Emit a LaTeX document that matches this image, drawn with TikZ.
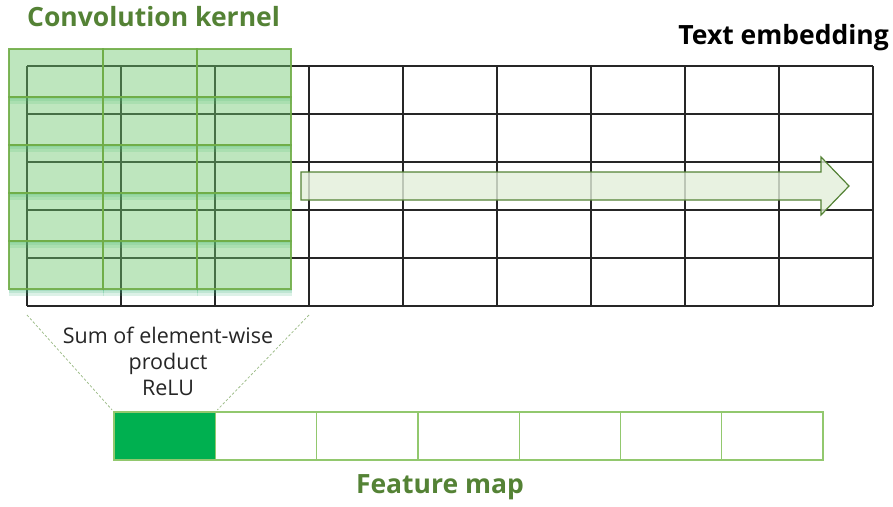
\documentclass[tikz,border=0pt]{standalone}
\usepackage{fontspec}
\setmainfont{Open Sans}
\definecolor{kgreen}{RGB}{112,173,71}
\definecolor{kfill}{RGB}{110,200,110}
\definecolor{kshadow}{RGB}{60,180,120}
\definecolor{dgreen}{RGB}{84,130,53}
\definecolor{afill}{RGB}{226,239,218}
\definecolor{fgreen}{RGB}{146,200,110}
\definecolor{fcell}{RGB}{0,176,80}
\definecolor{dashcol}{RGB}{160,190,140}
\begin{document}
\begin{tikzpicture}[x=1pt,y=-1pt,
  gridline/.style={draw=black!85,line width=1.4pt},
  kcell/.style={fill=kfill,fill opacity=0.45,draw=kgreen,draw opacity=0.9,line width=1.4pt},
  kshade/.style={fill=kshadow,fill opacity=0.18,draw=none},
  slide/.style={fill=afill,fill opacity=0.8,draw=dgreen,line width=1.2pt,line join=miter},
  fmcell/.style={rectangle,draw=fgreen,line width=1.3pt,minimum width=101.3pt,minimum height=48pt,inner sep=0pt},
  dashline/.style={draw=dashcol,line width=0.8pt,dash pattern=on 2.5pt off 2pt},
  title/.style={font=\fontsize{26.5}{30}\selectfont\bfseries,inner sep=0pt},
  note/.style={font=\fontsize{21.5}{26}\selectfont,align=center,text=black!85,inner sep=0pt}]
\useasboundingbox (0,0) rectangle (893,506);

% text embedding grid: 9 columns x 5 rows
\foreach \i in {0,...,9}
  \draw[gridline] ({27+94*\i},66) -- ({27+94*\i},306);
\foreach \j in {0,...,5}
  \draw[gridline] (27,{66+48*\j}) -- (873,{66+48*\j});

% soft shadows under the kernel cells
\foreach \c in {0,1,2}
  \foreach \r in {0,...,4} {
    \fill[kshade] ({9+94*\c},{97+48*\r}) rectangle ({103+94*\c+1},{97+48*\r+2});
    \fill[kshade] ({9+94*\c},{97+48*\r}) rectangle ({103+94*\c+1},{97+48*\r+4});
    \fill[kshade] ({9+94*\c},{97+48*\r}) rectangle ({103+94*\c+1},{97+48*\r+7});
  }

% convolution kernel: 3 columns x 5 rows
\foreach \c in {0,1,2}
  \foreach \r in {0,...,4}
    \path[kcell] ({9+94*\c},{49+48*\r}) rectangle ({103+94*\c},{97+48*\r});

% sliding direction arrow
\path[slide] (301,172) -- (821,172) -- (821,157) -- (849,186) -- (821,215)
  -- (821,200) -- (301,200) -- cycle;

% feature map cells
\foreach \k in {1,...,7}
  \node[fmcell] (f\k) at ({114+101.3*(\k-0.5)},436) {};
\fill[fcell] (f1.south west) rectangle (f1.north east);
\node[fmcell] at (f1) {};

% projection of the kernel window onto the first feature
\coordinate (kbl) at (27,315);
\coordinate (kbr) at (309,315);
\draw[dashline,shorten >=2pt] (kbl) -- (f1.north west);
\draw[dashline,shorten >=2pt] (kbr) -- (f1.north east);

% labels
\node[title,text=dgreen,anchor=west] (kt) at (27,17) {Convolution kernel};
\node[title,text=black,anchor=east] (et) at (889,38) {Text embedding};
\node[title,text=dgreen] (ft) at (440,487) {Feature map};
\node[note] (op) at (168,361) {Sum of element-wise\\product\\ReLU};
\end{tikzpicture}
\end{document}
